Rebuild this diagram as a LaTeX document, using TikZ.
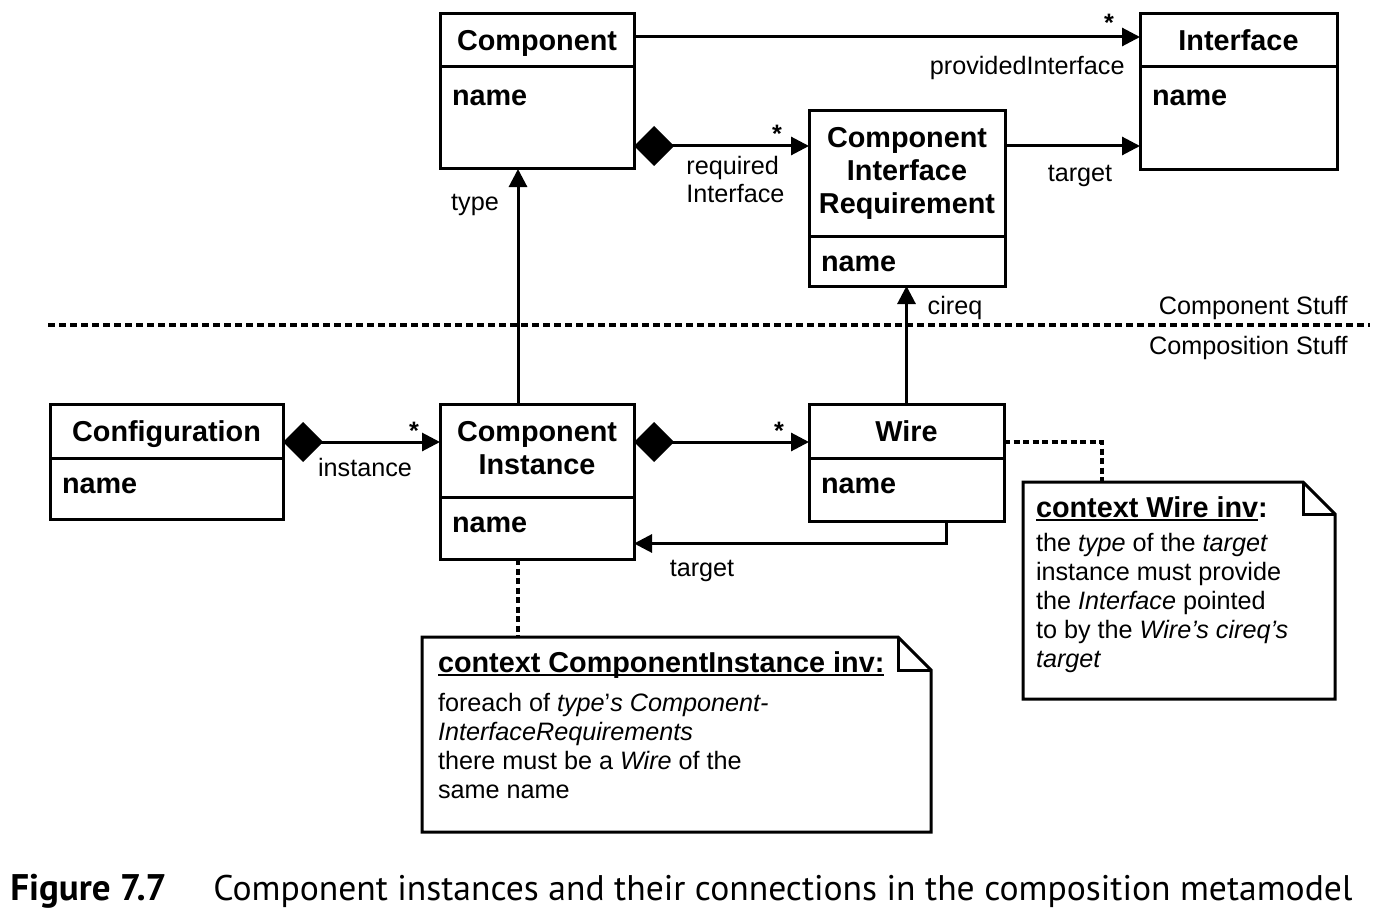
\documentclass[tikz,border=0pt]{standalone}
\usepackage{fontspec}
\setmainfont{Liberation Sans}
\newfontfamily\capfont{PT Sans}
\usetikzlibrary{arrows.meta,positioning}
\newcommand{\classfont}{\fontsize{14.4}{16.5}\selectfont\bfseries}
\newcommand{\labelfont}{\fontsize{12.6}{14}\selectfont}
\newcommand{\capsize}{\fontsize{17.8}{21}\selectfont}
\newcommand{\headline}[1]{\setbox0\hbox{#1}\rlap{\rule[-2pt]{\wd0}{1pt}}\box0}
\tikzset{classhead/.style 2 args={draw,rectangle,line width=1.5pt,font=\classfont,align=center,
        minimum width=#1,minimum height=#2,inner sep=0,outer sep=0},
    classbody/.style 2 args={draw,rectangle,line width=1.5pt,font=\classfont,align=left,
        text width=#1,text height=17.5pt,text depth=#2,inner xsep=6pt,inner ysep=0,outer sep=0,node distance=0},
    assoc/.style={-{Triangle[length=9pt,width=9pt]},line width=1.5pt},
    compos/.style={{Diamond[length=20pt,width=20pt]}-{Triangle[length=9pt,width=9pt]},line width=1.5pt},
    mult/.style={pos=1,anchor=base,inner sep=0,yshift=1.5pt,font=\labelfont\bfseries},
    lbl/.style={inner sep=0,font=\labelfont},
    notelink/.style={line width=1.6pt,dash pattern=on 3pt off 1.75pt},
    separator/.style={line width=1.6pt,dash pattern=on 3.5pt off 2pt},
    notebox/.style={inner xsep=#1,inner ysep=0,outer sep=0,anchor=north west},
    noteline/.style={line width=1.5pt}
}
\newcommand{\dogear}[2]
{
% args: (name of the note node, size of the folded corner)
    \draw [noteline] (#1.north west) -- ([xshift=-#2]#1.north east) -- ([yshift=-#2]#1.north east)
        -- (#1.south east) -- (#1.south west) -- cycle;
    \draw [noteline] ([xshift=-#2]#1.north east) |- ([yshift=-#2]#1.north east);
}
\begin{document}
\begin{tikzpicture}[x=0.5pt,y=-0.5pt]

\useasboundingbox (0,0) rectangle (1398,920);

%% component stuff
\node (comphead) at (537,40.5) [classhead={97pt}{26.5pt},text depth=0pt] {Component};
\node (compbody) [classbody={85pt}{32pt},text height=19pt,below=0pt of comphead] {name};

\node (ifhead) at (1238.5,40.5) [classhead={98.5pt}{26.5pt}] {Interface};
\node (ifbody) [classbody={86.5pt}{32.5pt},text height=19pt,below=0pt of ifhead] {name};

\node (cirhead) at (907,173.5) [classhead={98pt}{62.5pt}] {Component\\Interface\\Requirement};
\node (cirbody) [classbody={86pt}{7.5pt},below=0pt of cirhead] {name};

\coordinate (provy) at ([yshift=1.75pt]comphead.east);
\draw [assoc] (provy) -- (provy -| ifhead.west) node [mult,xshift=-15.5pt,yshift=1pt] (provmult) {*};
\node (provlbl) at (1125,75) [lbl,anchor=base east] {providedInterface};

\coordinate (reqy) at ([yshift=-14pt]compbody.east);
\draw [compos] (reqy) -- (reqy -| cirhead.west) node [mult,xshift=-16pt] (reqmult) {*};
\node (reqlbl) at (686,203) [lbl,anchor=base west,align=left] {required\\Interface};

\draw [assoc] (reqy -| cirhead.east) -- (reqy -| ifbody.west);
\node (cirtgtlbl) at (1080,182) [lbl,anchor=base] {target};

%% separator
\coordinate (sepwest) at (48,325);
\coordinate (sepeast) at (1370,325);
\draw [separator] (sepwest) -- (sepeast);
\node (upperlbl) at (1348,314) [lbl,anchor=base east] {Component Stuff};
\node (lowerlbl) at (1348,354) [lbl,anchor=base east] {Composition Stuff};

%% composition stuff
\node (confhead) at (166.5,431) [classhead={116.5pt}{27pt},text depth=0pt] {Configuration};
\node (confbody) [classbody={104.5pt}{13pt},below=0pt of confhead] {name};

\node (cihead) at (537,450.5) [classhead={97pt}{46.5pt},text depth=3pt] {Component\\Instance};
\node (cibody) [classbody={85pt}{13.5pt},below=0pt of cihead] {name};

\node (wirehead) at (906.5,431) [classhead={97.5pt}{27pt}] {Wire};
\node (wirebody) [classbody={85.5pt}{14pt},below=0pt of wirehead] {name};

\coordinate (insty) at ([yshift=-5.5pt]confhead.east);
\draw [compos] (insty) -- (insty -| cihead.west) node [mult,xshift=-13pt] (instmult) {*};
\node (instlbl) at (365,476) [lbl,anchor=base] {instance};

\coordinate (wirey) at (insty -| cihead.east);
\draw [compos] (wirey) -- (wirey -| wirehead.west) node [mult,xshift=-15pt] (wiremult) {*};

\coordinate (typefoot) at ([xshift=-9.5pt]cihead.north);
\draw [assoc] (typefoot) -- (typefoot |- compbody.south);
\node (typelbl) at (475,210) [lbl,anchor=base] {type};

\draw [assoc] (wirehead.north) -- (wirehead.north |- cirbody.south);
\node (cireqlbl) at (955,314) [lbl,anchor=base] {cireq};

\coordinate (wiretgt) at ([xshift=19.75pt]wirebody.south);
\draw [assoc] (wiretgt) |- ([yshift=-7.75pt]cibody.east);
\node (wiretgtlbl) at (702,576) [lbl,anchor=base] {target};

%% constraints
\node (wirenote) at (1023,482) [notebox=6.5pt] {\parbox[c][108.5pt][t]{143pt}{\raggedright
    {\classfont\rule{0pt}{17.5pt}\headline{context Wire inv}:\par}
    \vspace{2.5pt}
    \labelfont\baselineskip=14.5pt
    the \textit{type} of the \textit{target}\\
    instance must provide\\
    the \textit{Interface} pointed\\
    to by the \textit{Wire’s cireq’s}\\
    \textit{target}\par}};
\dogear{wirenote}{16pt}

\node (cinote) at (422,637) [notebox=8pt] {\parbox[c][97.5pt][t]{238.5pt}{\raggedright
    {\classfont\rule{0pt}{17.5pt}\headline{context ComponentInstance inv:}\par}
    \vspace{5pt}
    \labelfont\baselineskip=14.5pt
    foreach of \textit{type}’\textit{s Component-}\\
    \textit{InterfaceRequirements}\\
    there must be a \textit{Wire} of the\\
    same name\par}};
\dogear{cinote}{16.5pt}

\coordinate (wiredot) at ([yshift=-5.5pt]wirehead.east);
\draw [notelink] (wiredot) -| ([xshift=-38.5pt]wirenote.north);

\coordinate (cidot) at ([xshift=-9.5pt]cibody.south);
\draw [notelink] (cidot) -- (cidot |- cinote.north);

%% caption
\node (figno) at (10,900) [anchor=base west,inner sep=0,font=\capfont\fontsize{18.5}{22}\selectfont\bfseries] {Figure 7.7};
\node (figcap) at (213,900) [anchor=base west,inner sep=0,font=\capfont\capsize] {Component instances and their connections in the composition metamodel};

\end{tikzpicture}
\end{document}
